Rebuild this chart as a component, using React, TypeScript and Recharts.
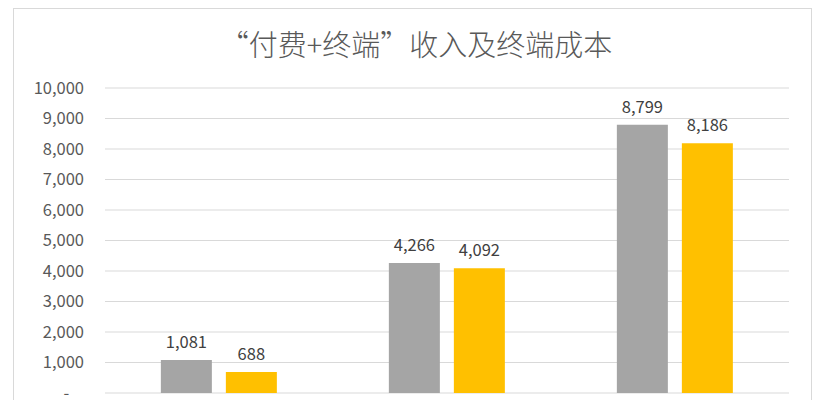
import { BarChart, Bar, XAxis, YAxis, CartesianGrid, LabelList } from "recharts";

const categories = ["A", "B", "C"];
const revenue = [1081, 4266, 8799];
const terminalCost = [688, 4092, 8186];
const yTicks = [0, 1000, 2000, 3000, 4000, 5000, 6000, 7000, 8000, 9000, 10000];

const data = categories.map((name, i) => ({
  name,
  revenue: revenue[i],
  cost: terminalCost[i],
}));

const FONT = "'Noto Sans CJK SC', 'Noto Sans', sans-serif";

const fmt = (v: number) => (v === 0 ? "-\u00A0\u00A0\u00A0\u00A0" : v.toLocaleString("en-US"));

export default function App() {
  return (
    <div
      style={{
        position: "absolute",
        left: 0,
        top: 0,
        width: 824,
        height: 400,
        overflow: "hidden",
        background: "#fff",
        fontFamily: FONT,
      }}
    >
      {/* chart frame */}
      <div
        style={{
          position: "absolute",
          left: 13,
          top: 8,
          width: 797,
          height: 420,
          border: "1px solid #d9d9d9",
        }}
      />
      <div
        style={{
          position: "absolute",
          left: 0,
          width: 832,
          top: 22,
          textAlign: "center",
          fontSize: 29,
          fontWeight: 300,
          color: "#595959",
          whiteSpace: "pre",
        }}
      >
        “付费+终端”收入及终端成本
      </div>
      <div style={{ position: "absolute", left: 0, top: 0 }}>
        <BarChart
          width={824}
          height={400}
          data={data}
          margin={{ top: 88, right: 35, bottom: 7, left: 0 }}
          barGap={14}
          barCategoryGap="24.5%"
        >
          <CartesianGrid vertical={false} stroke="#d9d9d9" strokeWidth={1.2} />
          <XAxis dataKey="name" height={0} tick={false} tickLine={false} axisLine={{ stroke: "#d9d9d9" }} />
          <YAxis
            width={105}
            domain={[0, 10000]}
            ticks={yTicks}
            tickFormatter={fmt}
            axisLine={false}
            tickLine={false}
            tickSize={0}
            tickMargin={21}
            interval={0}
            tick={{ fontSize: 16.5, fill: "#595959", fontFamily: FONT }}
          />
          <Bar dataKey="revenue" fill="#a5a5a5" isAnimationActive={false}>
            <LabelList
              dataKey="revenue"
              position="top"
              offset={12}
              formatter={(v: any) => Number(v).toLocaleString("en-US")}
              style={{ fontSize: 16.5, fill: "#404040", fontFamily: FONT }}
            />
          </Bar>
          <Bar dataKey="cost" fill="#ffc000" isAnimationActive={false}>
            <LabelList
              dataKey="cost"
              position="top"
              offset={12}
              formatter={(v: any) => Number(v).toLocaleString("en-US")}
              style={{ fontSize: 16.5, fill: "#404040", fontFamily: FONT }}
            />
          </Bar>
        </BarChart>
      </div>
    </div>
  );
}
